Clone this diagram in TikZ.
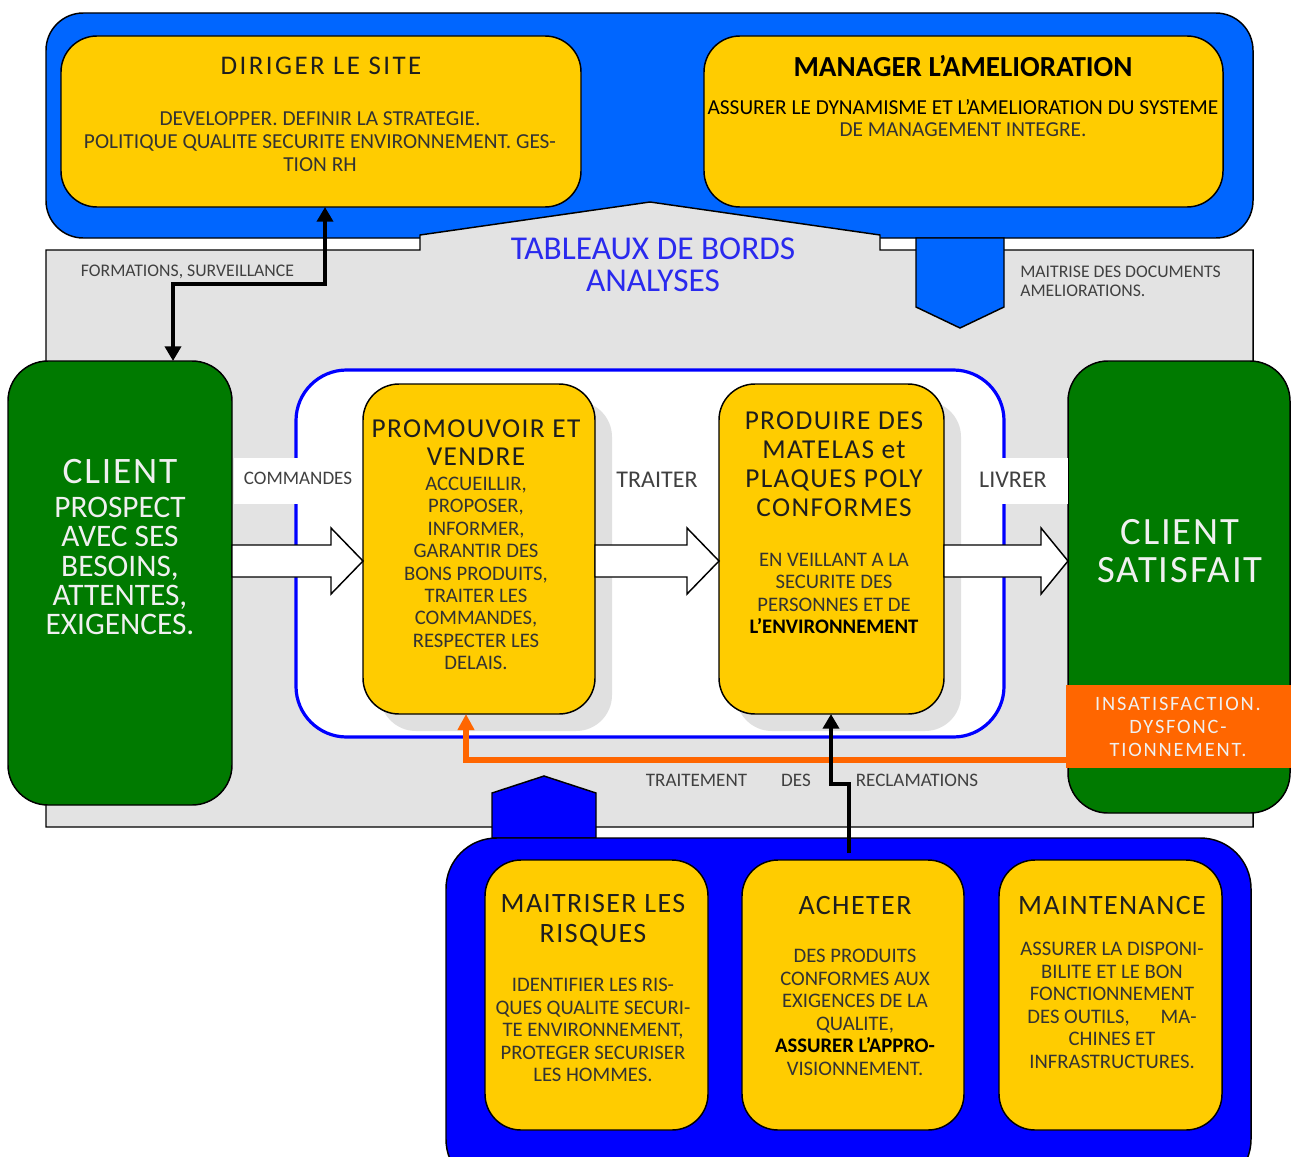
\documentclass[tikz,border=0pt]{standalone}
\usepackage{fontspec}
\setmainfont{Carlito}
\newfontfamily\spfont[LetterSpace=5]{Carlito}
\newfontfamily\spwide[LetterSpace=9]{Carlito}
\usetikzlibrary{arrows.meta}
\definecolor{gold}{HTML}{FFCC00}
\definecolor{topblue}{HTML}{0066FF}
\definecolor{botblue}{HTML}{0000FF}
\definecolor{grn}{HTML}{007A00}
\definecolor{greybg}{HTML}{E3E3E3}
\definecolor{shadowgrey}{HTML}{E0E0E0}
\definecolor{orng}{HTML}{FF6600}
\definecolor{tbtext}{HTML}{2A2AEE}
\definecolor{bodytxt}{HTML}{333333}
\definecolor{titletxt}{HTML}{1E1E1E}
\definecolor{labtxt}{HTML}{404040}
\definecolor{whitetxt}{HTML}{F0F0F0}
\tikzset{
  wh/.style 2 args={minimum width=#1*0.75pt, minimum height=#2*0.75pt},
  ybox/.style={draw=black, line width=1.1pt, fill=gold, rounded corners=27pt, inner sep=0pt, outer sep=0pt},
  gbox/.style={draw=black, line width=1.1pt, fill=grn, rounded corners=30pt, inner sep=0pt, outer sep=0pt},
  shadowbox/.style={fill=shadowgrey, rounded corners=27pt, inner sep=0pt, outer sep=0pt},
  txt/.style={inner sep=0pt, align=center},
  body/.style={txt, text=bodytxt, font=\fontsize{15.5}{16.9}\selectfont},
  ytitle/.style={txt, text=titletxt, font=\spfont\fontsize{21}{21.8}\selectfont},
  lab/.style={txt, text=labtxt, font=\fontsize{13.3}{14.25}\selectfont},
  wtxt/.style={txt, text=whitetxt},
  blk/.style={draw=black, line width=3.4pt},
  barrow/.style={draw=black, line width=1.1pt, fill=white, line join=miter},
}
\begin{document}
\begin{tikzpicture}[x=0.75pt,y=-0.75pt]
\useasboundingbox (0,0) rectangle (1291,1156);
\clip (0,0) rectangle (1291,1156);
\fill[white] (0,0) rectangle (1291,1156);

% top management container
\node[draw=black, line width=1.1pt, fill=topblue, rounded corners=28pt, inner sep=0pt, outer sep=0pt, wh={1207}{225}] (mgmt) at (649.5,125.5) {};

% grey process zone
\draw[fill=greybg, draw=black, line width=1.1pt]
  (46,250) -- (420,250) -- (420,235) -- (650,202) -- (880,235) -- (880,250)
  -- (1253,250) -- (1253,827) -- (46,827) -- cycle;

% downward pentagon
\draw[fill=topblue, draw=black, line width=1.1pt]
  (916,238) -- (1004,238) -- (1004,307) -- (960,328) -- (916,307) -- cycle;

% management boxes
\node[ybox, wh={520}{171}] (dir) at (321,121.5) {};
\node[ybox, wh={519}{171}] (man) at (963.5,121.5) {};
\node[txt, text=titletxt, font=\spwide\fontsize{20.2}{21}\selectfont] (dirT) at (321,66) {DIRIGER LE SITE};
\node[body, font=\fontsize{16}{17.25}\selectfont] (dirB) at (320,142) {DEVELOPPER. DEFINIR LA STRATEGIE.\\POLITIQUE QUALITE SECURITE ENVIRONNEMENT. GES-\\TION RH};
\node[txt, text=black, font=\bfseries\fontsize{21.8}{22}\selectfont] (manT) at (963,66) {MANAGER L’AMELIORATION};
\node[body, font=\fontsize{16}{16.5}\selectfont] (manB) at (963,118) {\textcolor{black}{ASSURER LE DYNAMISME ET L’AMELIORATION DU SYSTEME}\\DE MANAGEMENT INTEGRE.};

% zone texts
\node[txt, text=tbtext, font=\fontsize{25}{24}\selectfont] (tab) at (653,265) {TABLEAUX DE BORDS\\ANALYSES};
\node[lab] (form) at (187.5,272) {FORMATIONS, SURVEILLANCE};
\node[lab, align=left, anchor=west] (mdoc) at (1020,281.5) {MAITRISE DES DOCUMENTS\\AMELIORATIONS.};

% clients
\node[gbox, wh={224}{444}] (clientL) at (120,583) {};
\node[gbox, wh={222}{452}] (clientR) at (1179,587) {};
\node[wtxt, font=\spfont\fontsize{28}{28}\selectfont] (clLT) at (120,472) {CLIENT};
\node[wtxt, font=\fontsize{23.5}{22.1}\selectfont] (clLB) at (120,566) {PROSPECT\\AVEC SES\\BESOINS,\\ATTENTES,\\EXIGENCES.};
\node[wtxt, font=\spfont\fontsize{29}{28.5}\selectfont] (clRT) at (1180,551) {CLIENT\\SATISFAIT};
\node[fill=orng, inner sep=0pt, outer sep=0pt, wh={225}{83}] (insat) at (1178.5,726.5) {};
\node[wtxt, font=\spwide\fontsize{15.3}{17.25}\selectfont] (insatT) at (1178,727) {INSATISFACTION.\\DYSFONC-\\TIONNEMENT.};

% process container
\node[draw=botblue, line width=2.4pt, fill=white, rounded corners=38pt, inner sep=0pt, outer sep=0pt, wh={708}{367}] (proc) at (650,553.5) {};
\node[fill=white, inner sep=0pt, wh={129}{46}] (cmdbg) at (298.5,481) {};
\node[fill=white, inner sep=0pt, wh={123}{46}] (livbg) at (1006.5,481) {};
\node[txt, text=labtxt, font=\fontsize{14.3}{15}\selectfont] (cmd) at (298,478) {COMMANDES};
\node[txt, text=labtxt, font=\fontsize{18}{18}\selectfont] (trt) at (657,480) {TRAITER};
\node[txt, text=labtxt, font=\fontsize{18}{18}\selectfont] (liv) at (1013,480) {LIVRER};

% shadows and process boxes
\node[shadowbox, wh={232}{330}] (promS) at (496,566) {};
\node[shadowbox, wh={225}{330}] (prodS) at (848.5,566) {};
\node[ybox, wh={232}{330}] (prom) at (479,549) {};
\node[ybox, wh={225}{330}] (prod) at (831.5,549) {};
\node[ytitle, font=\spfont\fontsize{20.5}{21}\selectfont] (promT) at (476,443) {PROMOUVOIR ET\\VENDRE};
\node[body, font=\fontsize{15.5}{16.8}\selectfont] (promB) at (476,573.5) {ACCUEILLIR,\\PROPOSER,\\INFORMER,\\GARANTIR DES\\BONS PRODUITS,\\TRAITER LES\\COMMANDES,\\RESPECTER LES\\DELAIS.};
\node[ytitle, font=\spfont\fontsize{20.5}{21.75}\selectfont] (prodT) at (834,464.5) {PRODUIRE DES\\MATELAS et\\PLAQUES POLY\\CONFORMES};
\node[body, font=\fontsize{15.5}{16.75}\selectfont] (prodB) at (834,593.5) {EN VEILLANT A LA\\SECURITE DES\\PERSONNES ET DE\\\textcolor{black}{\bfseries L’ENVIRONNEMENT}};

% block arrows
\draw[barrow] (clientL.east |- 0,545) -- (331,545) -- (331,528) -- (prom.west |- 0,561)
  -- (331,594) -- (331,577) -- (clientL.east |- 0,577) -- cycle;
\draw[barrow] (prom.east |- 0,545) -- (687,545) -- (687,528) -- (prod.west |- 0,561)
  -- (687,594) -- (687,577) -- (prom.east |- 0,577) -- cycle;
\draw[barrow] (prod.east |- 0,545) -- (1041,545) -- (1041,528) -- (clientR.west |- 0,561)
  -- (1041,594) -- (1041,577) -- (prod.east |- 0,577) -- cycle;

% complaints loop
\draw[draw=orng, line width=5pt, -{Triangle[length=12pt,width=12pt]}]
  (insat.west |- 0,760) -- (466,760) -- (prom.south -| 466,0);
\node[lab, font=\fontsize{14.3}{15}\selectfont] (rec1) at (696.5,780) {TRAITEMENT};
\node[lab, font=\fontsize{14.3}{15}\selectfont] (rec2) at (796,780) {DES};
\node[lab, font=\fontsize{14.3}{15}\selectfont] (rec3) at (917,780) {RECLAMATIONS};

% formations arrow
\draw[blk, {Triangle[length=11pt,width=12pt]}-{Triangle[length=11pt,width=12pt]}]
  (clientL.north -| 173,0) -- (173,284) -- (325,284) -- (dir.south -| 325,0);

% support container
\draw[fill=botblue, draw=black, line width=1.1pt]
  (492,838) -- (492,793) -- (544,776) -- (596,793) -- (596,838) -- cycle;
\node[draw=black, line width=1.1pt, fill=botblue, rounded corners=38pt, inner sep=0pt, outer sep=0pt, wh={805}{352}] (supp) at (848.5,1014) {};
\node[ybox, wh={223}{270}] (mait) at (596.5,995) {};
\node[ybox, wh={222}{270}] (ach) at (853,995) {};
\node[ybox, wh={223}{270}] (maint) at (1110.5,995) {};
\node[ytitle, font=\spfont\fontsize{21}{22.5}\selectfont] (maitT) at (593,920) {MAITRISER LES\\RISQUES};
\node[body] (maitB) at (593,1030) {IDENTIFIER LES RIS-\\QUES QUALITE SECURI-\\TE ENVIRONNEMENT,\\PROTEGER SECURISER\\LES HOMMES.};
\node[ytitle] (achT) at (855,905) {ACHETER};
\node[body] (achB) at (855,1012.5) {DES PRODUITS\\CONFORMES AUX\\EXIGENCES DE LA\\QUALITE,\\\textcolor{black}{\bfseries ASSURER L’APPRO-}\\VISIONNEMENT.};
\node[ytitle] (maintT) at (1112,905) {MAINTENANCE};
\node[body] (maintB) at (1112,1005.5) {ASSURER LA DISPONI-\\BILITE ET LE BON\\FONCTIONNEMENT\\DES OUTILS,\hspace{1.5em}MA-\\CHINES ET\\INFRASTRUCTURES.};

% purchasing arrow
\coordinate (achs) at (849,853);
\draw[blk, -{Triangle[length=11pt,width=12pt]}]
  (achs) -- (849,784) -- (831,784) -- (prod.south -| 831,0);
\end{tikzpicture}
\end{document}
